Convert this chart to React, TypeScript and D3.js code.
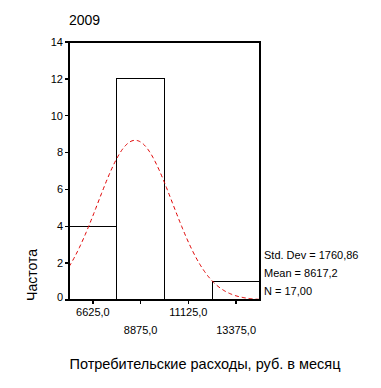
import React from "react";
import * as d3 from "d3";

const binStarts = [5500, 7750, 10000, 12250];
const binWidth = 2250;
const counts = [4, 12, 0, 1];
const xTicks = [6625, 8875, 11125, 13375];
const xTickLabels = ["6625,0", "8875,0", "11125,0", "13375,0"];
const yTicks = [0, 2, 4, 6, 8, 10, 12, 14];
const statLines = ["Std. Dev = 1760,86", "Mean = 8617,2", "N = 17,00"];
const mean = 8617.2;
const sd = 1760.86;
const n = 17;
const title = "2009";
const xLabel = "Потребительские расходы, руб. в месяц";
const yLabel = "Частота";

export default function App() {
  const W = 381, H = 388;
  const left = 69, right = 260, top = 42, bottom = 300;
  const x = d3.scaleLinear().domain([5500, 14500]).range([left, right]);
  const y = d3.scaleLinear().domain([0, 14]).range([bottom, top]);
  const font = "'Liberation Sans', Arial, sans-serif";

  const pts: [number, number][] = [];
  for (let v = 5500; v <= 14500; v += 45) {
    const z = (v - mean) / sd;
    const h = (n * binWidth) / (sd * Math.sqrt(2 * Math.PI)) * Math.exp(-0.5 * z * z);
    pts.push([v, h]);
  }
  const line = d3.line<[number, number]>().x(d => x(d[0])).y(d => y(d[1]));

  return (
    <svg width={W} height={H} style={{ position: "absolute", left: 0, top: 0 }} fontFamily={font}>
      <rect x={0} y={0} width={W} height={H} fill="#fff" />
      <text x={left} y={25} fontSize={14} fill="#000">{title}</text>
      {binStarts.map((b, i) =>
        counts[i] > 0 ? (
          <rect key={i} x={x(b)} y={y(counts[i])} width={x(b + binWidth) - x(b)} height={y(0) - y(counts[i])}
            fill="none" stroke="#000" strokeWidth={1} shapeRendering="crispEdges" />
        ) : null
      )}
      <path d={line(pts) || ""} fill="none" stroke="#e00000" strokeWidth={1} strokeDasharray="4,3" />
      <rect x={left} y={top} width={right - left} height={bottom - top} fill="none" stroke="#000" strokeWidth={1.3} shapeRendering="crispEdges" />
      {yTicks.map(t => (
        <g key={t}>
          <line x1={left - 4} x2={left} y1={y(t)} y2={y(t)} stroke="#000" strokeWidth={1.3} shapeRendering="crispEdges" />
          <text x={left - 6} y={y(t) - (t === 0 ? 3 : 0)} dy="0.35em" textAnchor="end" fontSize={11}>{t}</text>
        </g>
      ))}
      {xTicks.map((t, i) => (
        <g key={t}>
          <line x1={x(t)} x2={x(t)} y1={bottom} y2={bottom + 4} stroke="#000" strokeWidth={1.3} shapeRendering="crispEdges" />
          <text x={x(t)} y={i % 2 === 0 ? 316 : 334} textAnchor="middle" fontSize={11}>{xTickLabels[i]}</text>
        </g>
      ))}
      {statLines.map((s, i) => (
        <text key={s} x={264} y={259 + i * 18} fontSize={11}>{s}</text>
      ))}
      <text transform={`translate(37,275) rotate(-90)`} textAnchor="middle" fontSize={14}>{yLabel}</text>
      <text x={205} y={369} textAnchor="middle" fontSize={14.5}>{xLabel}</text>
    </svg>
  );
}
